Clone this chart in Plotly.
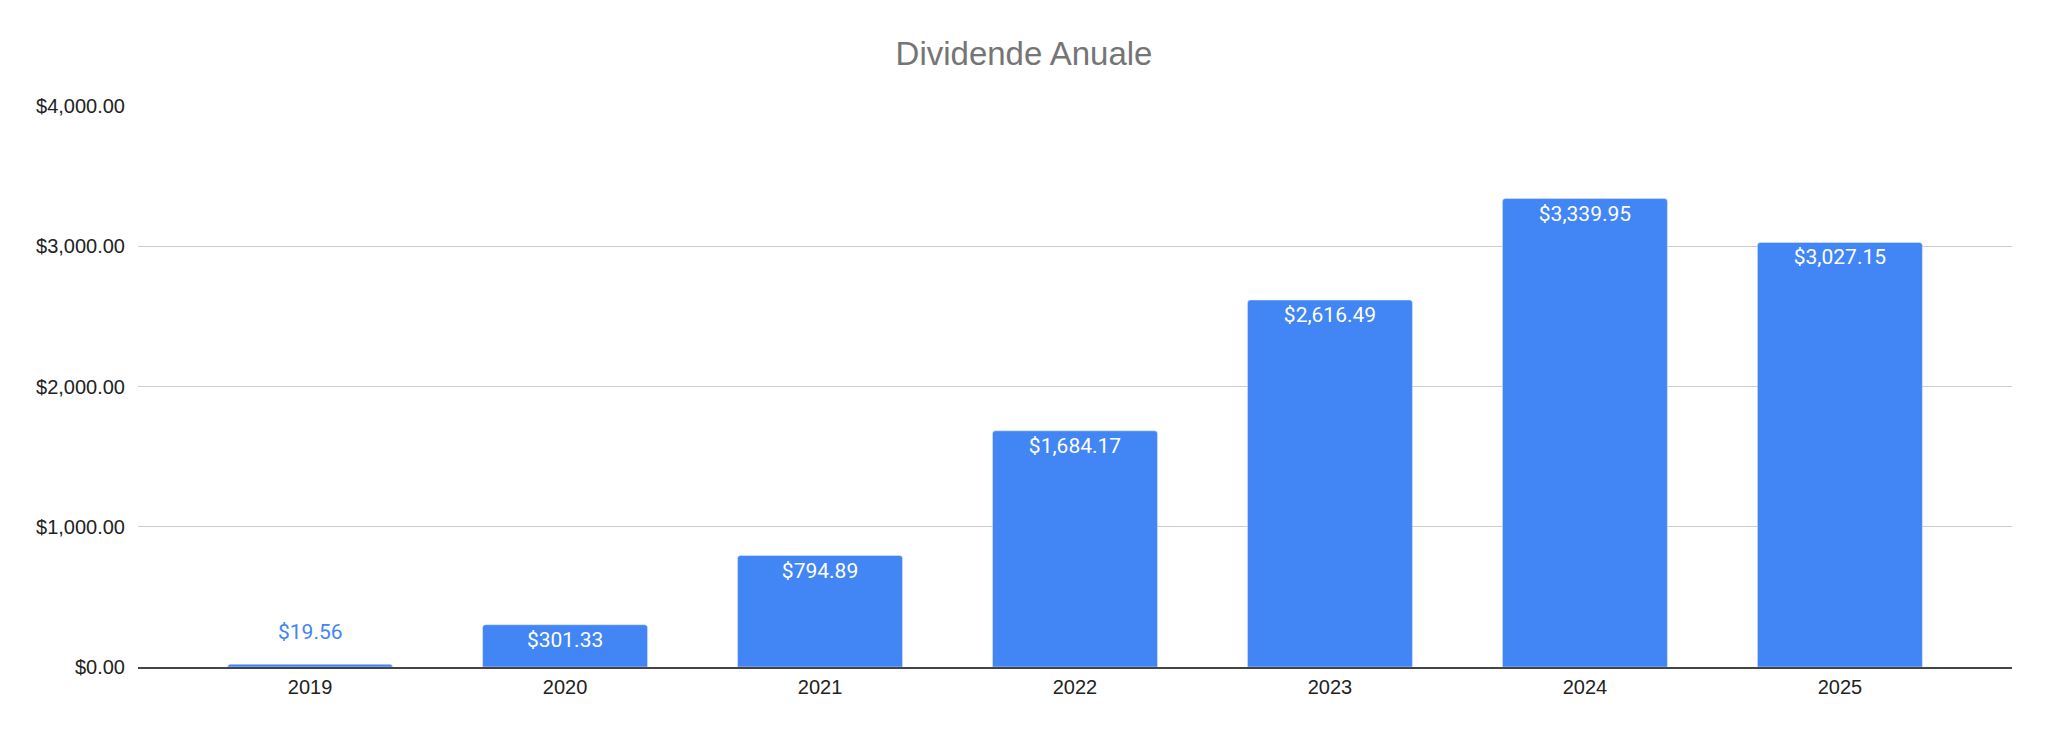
import plotly.graph_objects as go

years = ["2019", "2020", "2021", "2022", "2023", "2024", "2025"]
dividends = [19.56, 301.33, 794.89, 1684.17, 2616.49, 3339.95, 3027.15]

BLUE = "#4285F4"

# bars too short for an inside label get it above the bar, in blue
small = [v < 150 for v in dividends]
positions = ["none" if s else "inside" for s in small]

fig = go.Figure(
    go.Bar(
        x=years,
        y=dividends,
        marker=dict(color=BLUE, cornerradius=3),
        width=0.647,
        texttemplate="$%{y:,.2f}",
        textposition=positions,
        insidetextanchor="end",
        textfont=dict(family="Roboto", size=21, color="white"),
        cliponaxis=False,
    )
)

# numeric-looking category names would be read as numbers, so use the index
for i, (v, s) in enumerate(zip(dividends, small)):
    if s:
        fig.add_annotation(
            x=i, y=v, text=f"${v:,.2f}", showarrow=False,
            yanchor="bottom", yshift=18,
            font=dict(family="Roboto", size=21, color=BLUE),
        )

# page body adds an 8px margin, so the figure is a bit smaller than the window
fig.update_layout(
    width=2040,
    height=726,
    plot_bgcolor="white",
    paper_bgcolor="white",
    showlegend=False,
    margin=dict(l=130, r=36, t=98, b=67),
    title=dict(
        text="Dividende Anuale",
        x=(1024 - 8) / 2040,
        xanchor="center",
        y=1 - 45 / 726,
        yanchor="middle",
        font=dict(family="Liberation Sans", size=33, color="#757575"),
    ),
    font=dict(family="Liberation Sans", size=20, color="#222222"),
)

fig.update_yaxes(
    range=[0, 4000],
    dtick=1000,
    tickprefix="$",
    tickformat=",.2f",
    showgrid=True,
    gridcolor="#cccccc",
    gridwidth=1,
    zeroline=False,
    showline=False,
    ticklabelstandoff=12,
    tickfont=dict(family="Liberation Sans", size=20, color="#222222"),
)

fig.update_xaxes(
    type="category",
    range=[-0.675, 6.675],
    showgrid=False,
    showline=True,
    linecolor="#444444",
    linewidth=1.5,
    ticklabelstandoff=1,
    tickfont=dict(family="Liberation Sans", size=20, color="#222222"),
)

fig.write_html("out.html")
